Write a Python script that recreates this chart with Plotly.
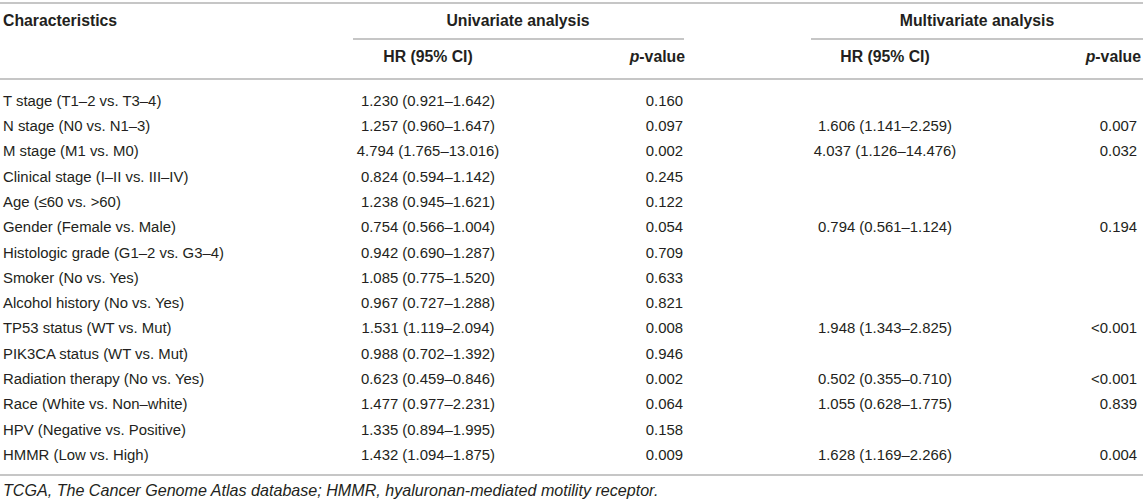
import plotly.graph_objects as go

# table content
characteristics = [
    "T stage (T1–2 vs. T3–4)",
    "N stage (N0 vs. N1–3)",
    "M stage (M1 vs. M0)",
    "Clinical stage (I–II vs. III–IV)",
    "Age (≤60 vs. >60)",
    "Gender (Female vs. Male)",
    "Histologic grade (G1–2 vs. G3–4)",
    "Smoker (No vs. Yes)",
    "Alcohol history (No vs. Yes)",
    "TP53 status (WT vs. Mut)",
    "PIK3CA status (WT vs. Mut)",
    "Radiation therapy (No vs. Yes)",
    "Race (White vs. Non–white)",
    "HPV (Negative vs. Positive)",
    "HMMR (Low vs. High)",
]
uni_hr = [
    "1.230 (0.921–1.642)", "1.257 (0.960–1.647)", "4.794 (1.765–13.016)",
    "0.824 (0.594–1.142)", "1.238 (0.945–1.621)", "0.754 (0.566–1.004)",
    "0.942 (0.690–1.287)", "1.085 (0.775–1.520)", "0.967 (0.727–1.288)",
    "1.531 (1.119–2.094)", "0.988 (0.702–1.392)", "0.623 (0.459–0.846)",
    "1.477 (0.977–2.231)", "1.335 (0.894–1.995)", "1.432 (1.094–1.875)",
]
uni_p = ["0.160", "0.097", "0.002", "0.245", "0.122", "0.054", "0.709", "0.633",
         "0.821", "0.008", "0.946", "0.002", "0.064", "0.158", "0.009"]
multi_hr = [
    "", "1.606 (1.141–2.259)", "4.037 (1.126–14.476)", "", "",
    "0.794 (0.561–1.124)", "", "", "", "1.948 (1.343–2.825)", "",
    "0.502 (0.355–0.710)", "1.055 (0.628–1.775)", "", "1.628 (1.169–2.266)",
]
multi_p = ["", "0.007", "0.032", "", "", "0.194", "", "", "", "<0.001", "",
           "<0.001", "0.839", "", "0.004"]

group_headers = ["Univariate analysis", "Multivariate analysis"]
sub_headers = ["HR (95% CI)", "<i>p</i>-value", "HR (95% CI)", "<i>p</i>-value"]
footnote = "TCGA, The Cancer Genome Atlas database; HMMR, hyaluronan-mediated motility receptor."

W, H = 1143, 503
FONT = "Liberation Sans, Arial, Helvetica, sans-serif"
TXT = "#231f20"
LINE = "#c6c6c6"
FS = 14.9
HFS = 15.8

row_y = [102 + 25.3 * i for i in range(len(characteristics))]

fig = go.Figure()


def col(xpos, texts, pos, size=FS, y=None):
    yy = row_y if y is None else y
    fig.add_trace(go.Scatter(
        x=[xpos] * len(texts), y=yy, text=texts, mode="text", cliponaxis=False,
        textposition=pos, textfont=dict(family=FONT, size=size, color=TXT),
        hoverinfo="skip", showlegend=False))


# body columns
col(3, characteristics, "middle right")
col(428, uni_hr, "middle center")
col(683, uni_p, "middle left")
col(885, multi_hr, "middle center")
col(1137, multi_p, "middle left")

# headers
col(3, ["<b>Characteristics</b>"], "middle right", size=HFS, y=[22])
col(518, ["<b>%s</b>" % group_headers[0]], "middle center", size=HFS, y=[22])
col(977, ["<b>%s</b>" % group_headers[1]], "middle center", size=HFS, y=[22])
col(428, ["<b>%s</b>" % sub_headers[0]], "middle center", size=HFS, y=[58])
col(685, ["<b>%s</b>" % sub_headers[1]], "middle left", size=HFS, y=[58])
col(885, ["<b>%s</b>" % sub_headers[2]], "middle center", size=HFS, y=[58])
col(1141, ["<b>%s</b>" % sub_headers[3]], "middle left", size=HFS, y=[58])

# footnote
col(3, ["<i>%s</i>" % footnote], "middle right", size=16.1, y=[492])

# rules
for y0, x0, x1 in [(3, 0, W), (39, 353, 684), (39, 811, W), (79, 0, W), (475, 0, W)]:
    fig.add_shape(type="line", x0=x0, x1=x1, y0=y0, y1=y0,
                  line=dict(color=LINE, width=2.2), layer="below")

fig.update_layout(
    width=W, height=H, margin=dict(l=0, r=0, t=0, b=0),
    paper_bgcolor="white", plot_bgcolor="white",
    xaxis=dict(range=[0, W], visible=False, fixedrange=True),
    yaxis=dict(range=[H, 0], visible=False, fixedrange=True),
)

# drop the default page margin so the figure sits at the window's corner
fig.write_html("out.html", config={"displayModeBar": False},
               post_script="document.body.style.margin='0px';")
